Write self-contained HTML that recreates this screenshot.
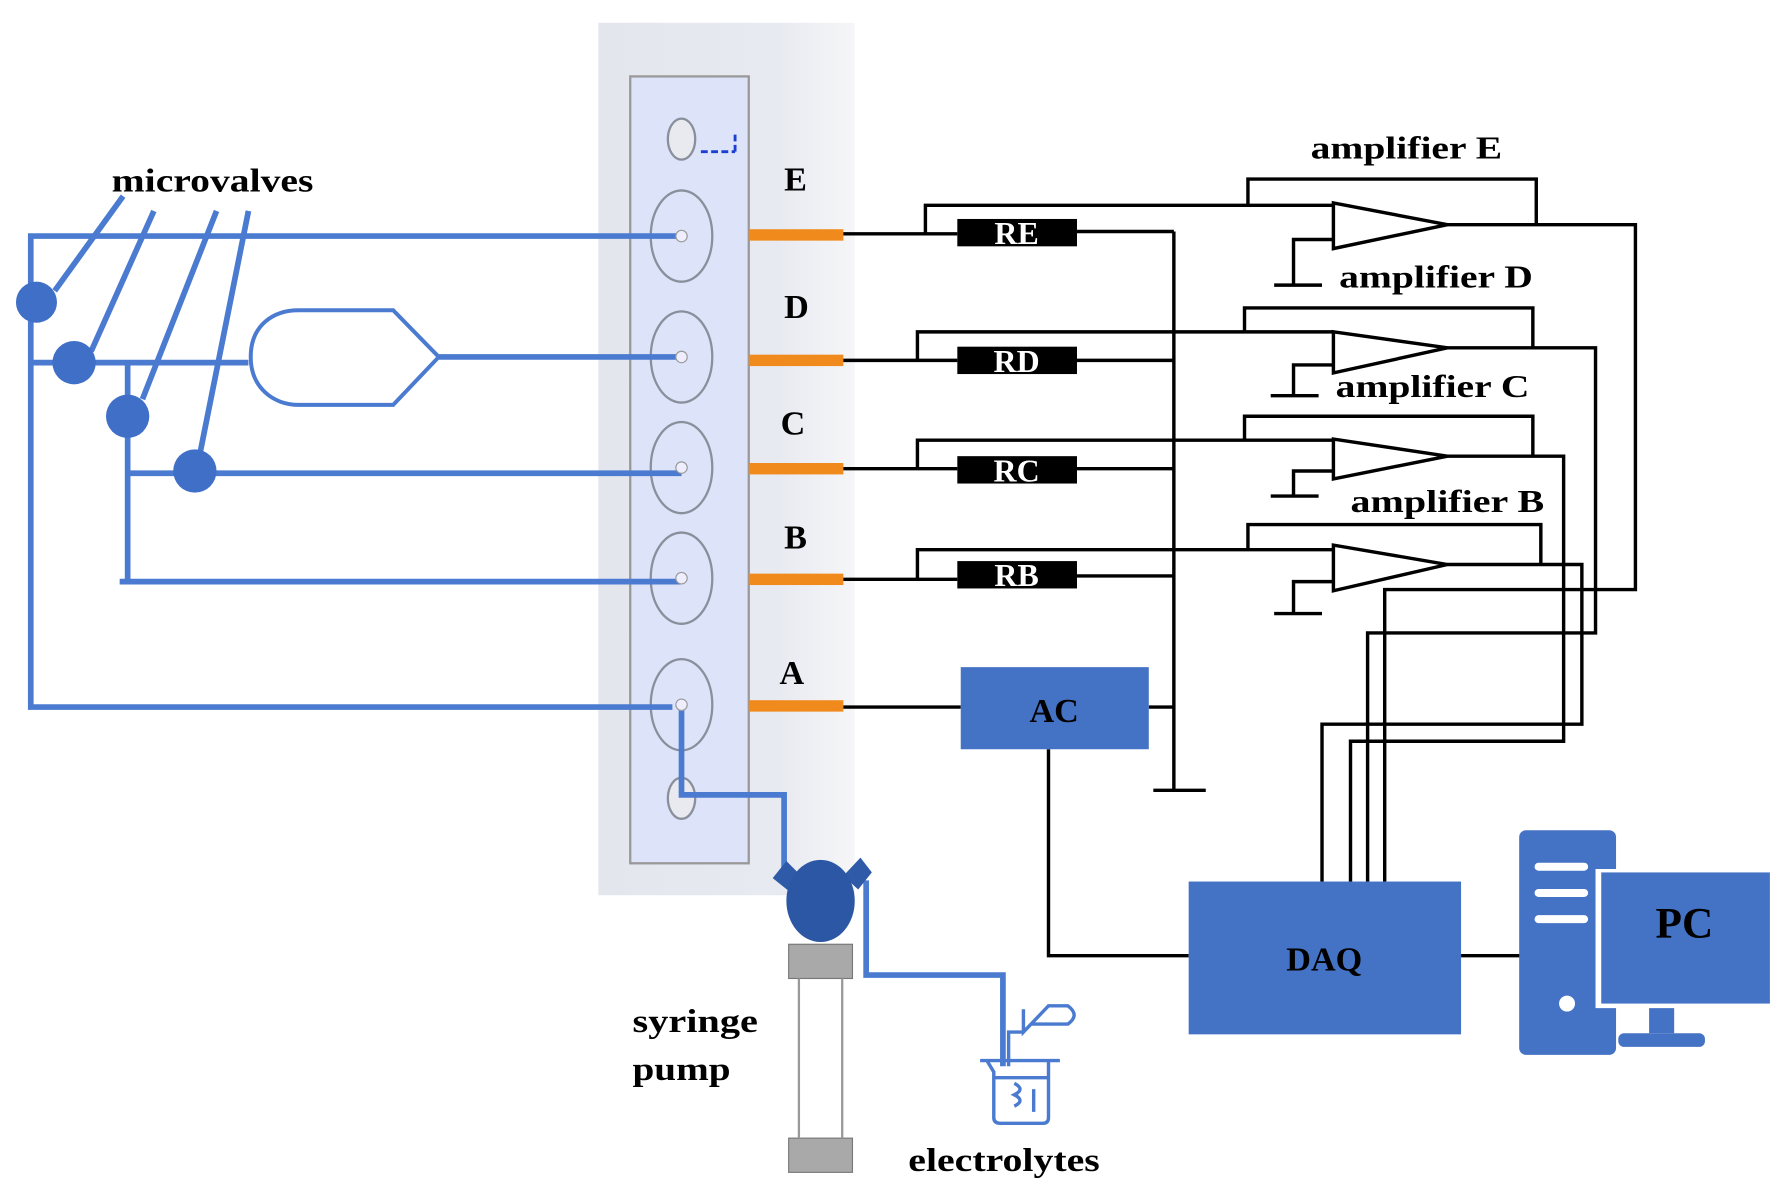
<!DOCTYPE html>
<html><head><meta charset="utf-8"><style>
html,body{margin:0;padding:0;background:#fff}
svg{display:block}
text{font-family:"Liberation Serif",serif;font-weight:bold}
</style></head><body>
<svg width="1787" height="1202" viewBox="0 0 1568 1054" preserveAspectRatio="none" xmlns="http://www.w3.org/2000/svg">
<defs>
<linearGradient id="g" x1="0" x2="1" y1="0" y2="0">
<stop offset="0" stop-color="#e4e6ee"/><stop offset="0.7" stop-color="#e8eaf1"/><stop offset="1" stop-color="#f6f6f8"/>
</linearGradient>
</defs>
<rect x="525" y="20" width="225" height="765" fill="url(#g)"/>
<rect x="553" y="67" width="104" height="690" fill="#dde3f8" stroke="#999" stroke-width="2"/>
<g fill="none" stroke="#8a8f9c" stroke-width="2">
<ellipse cx="598" cy="122" rx="12" ry="18" fill="#e8eaf0"/>
<ellipse cx="598" cy="207" rx="27" ry="40"/>
<ellipse cx="598" cy="313" rx="27" ry="40"/>
<ellipse cx="598" cy="410" rx="27" ry="40"/>
<ellipse cx="598" cy="507" rx="27" ry="40"/>
<ellipse cx="598" cy="618" rx="27" ry="40"/>
<ellipse cx="598" cy="700" rx="12" ry="18" fill="#e8eaf0"/>
</g>
<path d="M615 133 H645 M645 118 V133" stroke="#1a3fd0" stroke-width="2.5" fill="none" stroke-dasharray="6 3"/>
<g font-size="30">
<text x="688" y="167">E</text><text x="688" y="279">D</text><text x="685" y="381">C</text><text x="688" y="481">B</text><text x="684" y="600">A</text>
</g>
<g fill="#f08a1c">
<rect x="657" y="201" width="83" height="10"/><rect x="657" y="311" width="83" height="10"/>
<rect x="657" y="406" width="83" height="10"/><rect x="657" y="503" width="83" height="10"/>
<rect x="657" y="614" width="83" height="10"/>
</g>
<g fill="none" stroke="#4a7bd0" stroke-width="5">
<path d="M598 207 H27 V620 H590"/>
<path d="M27 318 H218"/>
<path d="M112 318 V510 M105 510 H598"/>
<path d="M112 415 H598"/>
<path d="M385 313 H598"/>
<path d="M220 313 C220 285 240 272 262 272 H345 L385 313 L345 355 H262 C240 355 220 340 220 313 Z" stroke-width="3.5"/>
<path d="M48 255 L108 172 M80 308 L135 185 M125 350 L190 185 M175 400 L218 185"/>
<path d="M598 618 V697 H688 V770"/>
<path d="M760 772 V855 H880 V935"/>
</g>
<g fill="#3f6fc6">
<circle cx="32" cy="265" r="18"/><circle cx="65" cy="318" r="19"/><circle cx="112" cy="365" r="19"/><circle cx="171" cy="413" r="19"/>
</g>
<circle cx="598" cy="207" r="5" fill="#eef" stroke="#999"/><circle cx="598" cy="313" r="5" fill="#eef" stroke="#999"/>
<circle cx="598" cy="410" r="5" fill="#eef" stroke="#999"/><circle cx="598" cy="507" r="5" fill="#eef" stroke="#999"/>
<circle cx="598" cy="618" r="5" fill="#eef" stroke="#999"/>
<text x="98" y="168" font-size="29" textLength="177" lengthAdjust="spacingAndGlyphs">microvalves</text>
<path d="M678 770 L690 755 L703 768 L693 782 Z M740 768 L755 752 L765 765 L753 780 Z" fill="#2f5aa8"/>
<ellipse cx="720" cy="790" rx="30" ry="36" fill="#2c57a5"/>
<rect x="692" y="828" width="56" height="30" fill="#a9a9a9" stroke="#777"/>
<rect x="692" y="998" width="56" height="30" fill="#a9a9a9" stroke="#777"/>
<path d="M701 858 V998 M739 858 V998" stroke="#999" stroke-width="2"/>
<text x="555" y="905" font-size="29" textLength="110" lengthAdjust="spacingAndGlyphs">syringe</text>
<text x="555" y="947" font-size="29" textLength="86" lengthAdjust="spacingAndGlyphs">pump</text>
<g fill="none" stroke="#4a7bd0" stroke-width="3">
<path d="M860 930 H930 M866 930 L872 940 V980 Q872 985 878 985 H915 Q920 985 920 980 V930"/>
<path d="M872 945 H920"/>
<path d="M885 935 V905 H898 M898 885 V905 L920 882 H937 Q948 890 937 898 H905"/>
<path d="M890 950 Q900 955 890 960 Q900 965 890 970 M907 955 V975"/>
</g>
<text x="797" y="1027" font-size="29" textLength="168" lengthAdjust="spacingAndGlyphs">electrolytes</text>
<g fill="none" stroke="#000" stroke-width="3">
<path d="M740 205 H840 M812 205 V180 H1170 M945 203 H1030"/>
<path d="M740 316 H840 M805 316 V291 H1170 M945 316 H1030"/>
<path d="M740 411 H840 M805 411 V386 H1170 M945 411 H1030"/>
<path d="M740 508 H840 M805 508 V482 H1170 M945 505 H1030"/>
<path d="M1030 203 V693 M1012 693 H1058"/>
<path d="M740 620 H843 M1008 620 H1030"/>
<path d="M920 657 V838 H1043 M1282 838 H1335"/>
<path d="M1170 178 V218 L1270 197 Z M1170 291 V327 L1270 305 Z M1170 385 V420 L1270 400 Z M1170 478 V518 L1270 495 Z" fill="#fff"/>
<path d="M1095 180 V157 H1348 V197 M1092 291 V270 H1345 V305 M1092 386 V365 H1345 V400 M1095 482 V460 H1352 V495"/>
<path d="M1170 210 H1135 V250 M1118 250 H1160 M1170 320 H1135 V347 M1115 347 H1157 M1170 413 H1135 V435 M1115 435 H1157 M1170 510 H1135 V538 M1118 538 H1160"/>
<path d="M1270 197 H1435 V517 H1215 V773"/>
<path d="M1270 305 H1400 V555 H1200 V773"/>
<path d="M1270 400 H1372 V650 H1185 V773"/>
<path d="M1270 495 H1388 V635 H1160 V773"/>
</g>
<g>
<rect x="840" y="192" width="105" height="24" fill="#000"/><rect x="840" y="304" width="105" height="24" fill="#000"/>
<rect x="840" y="400" width="105" height="24" fill="#000"/><rect x="840" y="492" width="105" height="24" fill="#000"/>
</g>
<g fill="#fff" font-size="28" text-anchor="middle">
<text x="892" y="214">RE</text><text x="892" y="326">RD</text><text x="892" y="422">RC</text><text x="892" y="514">RB</text>
</g>
<g font-size="28">
<text x="1150" y="139" textLength="168" lengthAdjust="spacingAndGlyphs">amplifier E</text>
<text x="1175" y="252" textLength="170" lengthAdjust="spacingAndGlyphs">amplifier D</text>
<text x="1172" y="348" textLength="170" lengthAdjust="spacingAndGlyphs">amplifier C</text>
<text x="1185" y="449" textLength="170" lengthAdjust="spacingAndGlyphs">amplifier B</text>
</g>
<rect x="843" y="585" width="165" height="72" fill="#4472c4"/>
<text x="925" y="633" font-size="30" text-anchor="middle">AC</text>
<rect x="1043" y="773" width="239" height="134" fill="#4472c4"/>
<text x="1162" y="851" font-size="30" text-anchor="middle">DAQ</text>
<rect x="1333" y="728" width="85" height="197" rx="6" fill="#4472c4"/>
<g stroke="#fff" stroke-width="7" stroke-linecap="round"><path d="M1350 760 H1390 M1350 783 H1390 M1350 806 H1390"/></g>
<circle cx="1375" cy="880" r="7" fill="#fff"/>
<rect x="1400" y="762" width="155" height="122" fill="#fff"/>
<rect x="1405" y="765" width="148" height="115" fill="#4472c4"/>
<rect x="1447" y="884" width="22" height="22" fill="#4472c4"/>
<rect x="1420" y="906" width="76" height="12" rx="5" fill="#4472c4"/>
<text x="1478" y="822" font-size="38" text-anchor="middle">PC</text>
</svg>
</body></html>
